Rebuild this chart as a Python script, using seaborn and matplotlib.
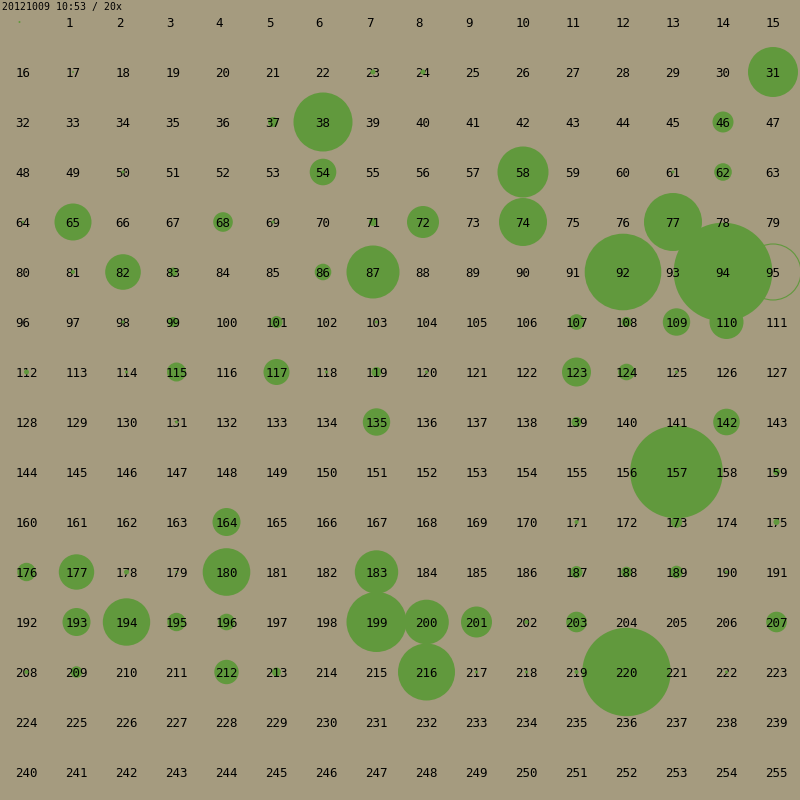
import numpy as np
import pandas as pd
import matplotlib
matplotlib.use("Agg")
import matplotlib.pyplot as plt
import seaborn as sns

# ---- data ----
title_text = "20121009 10:53 / 20x"
labels = list(range(1, 256))          # cell labels (cell 0 unlabeled)
filled_cells = [0, 17, 23, 24, 31, 37, 38, 46, 50, 54, 58, 61, 62, 64, 65, 68, 69, 71, 72, 74,
                77, 81, 82, 83, 86, 87, 92, 94, 98, 99, 101, 103, 107, 108, 109, 110, 112, 114,
                115, 117, 118, 119, 120, 123, 124, 125, 131, 135, 139, 142, 157, 159, 164, 171,
                173, 175, 176, 177, 178, 179, 180, 183, 187, 188, 189, 190, 193, 194, 195, 196,
                199, 200, 201, 202, 203, 207, 208, 209, 212, 213, 216, 217, 218, 219, 220, 222]
filled_radius = [1.0, 1.0, 2.5, 2.5, 25, 5, 29.5, 10.5, 1.5, 13.3, 25.5, 1.5, 8.8, 1.2, 18.5, 9.8,
                 1.5, 4, 16, 24, 29, 2, 17.8, 4.5, 8.3, 26.5, 38.3, 49.3, 1.5, 5, 6, 1.5, 7.8, 5,
                 13.7, 17, 2.5, 1.5, 9.5, 13, 1.5, 5, 1.5, 14.5, 8.3, 1.5, 1.5, 13.7, 5, 13.3,
                 46.3, 3.3, 14, 2, 5.7, 3, 9.2, 17.7, 2.5, 1, 23.8, 21.7, 6, 5.3, 6.3, 1.5, 14,
                 23.7, 9.2, 8.3, 30, 22.3, 15.5, 2, 10.3, 10.3, 2, 5.8, 12.2, 4.5, 28.5, 1.5, 1.5,
                 2, 44.2, 1.5]
hollow_cells = [95]
hollow_radius = [28]

BG = "#A59B7F"
GREEN = "#61993D"
DPI = 100


def cell_xy(n):
    c, r = n % 16, n // 16
    nd = max(1, len(str(n)))
    return 16 + 50 * c + 3.5 * nd, 22 + 50 * r


def px_to_s(r):
    d_pt = 2 * r * 72.0 / DPI
    return d_pt ** 2


sns.set_theme(style="white")

fig = plt.figure(figsize=(8, 8), dpi=DPI, facecolor=BG)
ax = fig.add_axes([0, 0, 1, 1])
ax.set_facecolor(BG)
ax.set_xlim(0, 800)
ax.set_ylim(800, 0)
ax.axis("off")

df = pd.DataFrame({"cell": filled_cells, "r": filled_radius})
df["x"] = [cell_xy(n)[0] for n in df["cell"]]
df["y"] = [cell_xy(n)[1] for n in df["cell"]]
df["s"] = [px_to_s(r) for r in df["r"]]

big = df[df["r"] > 3]
small = df[df["r"] <= 3]

hdf = pd.DataFrame({"cell": hollow_cells, "r": hollow_radius})
hdf["x"] = [cell_xy(n)[0] for n in hdf["cell"]]
hdf["y"] = [cell_xy(n)[1] for n in hdf["cell"]]
hdf["s"] = [px_to_s(r) for r in hdf["r"]]

sns.scatterplot(data=hdf, x="x", y="y", s=hdf["s"].values, marker="o",
                facecolors="none", edgecolor=GREEN, linewidth=0.8, ax=ax,
                legend=False, zorder=1)
sns.scatterplot(data=big, x="x", y="y", s=big["s"].values, marker="o", color=GREEN,
                linewidth=0, ax=ax, legend=False, zorder=2)

for n in labels:
    x, y = cell_xy(n)
    ax.text(x, y + 4.8, str(n), ha="center", va="baseline", fontsize=9,
            family="DejaVu Sans Mono", color="black", zorder=3)

sns.scatterplot(data=small, x="x", y="y", s=small["s"].values, marker="o", color=GREEN,
                linewidth=0, ax=ax, legend=False, zorder=4)

ax.text(2, 7, title_text, ha="left", va="center", fontsize=7.1,
        family="DejaVu Sans Mono", color="black", zorder=5)

fig.savefig("out.png", dpi=DPI, facecolor=BG)
